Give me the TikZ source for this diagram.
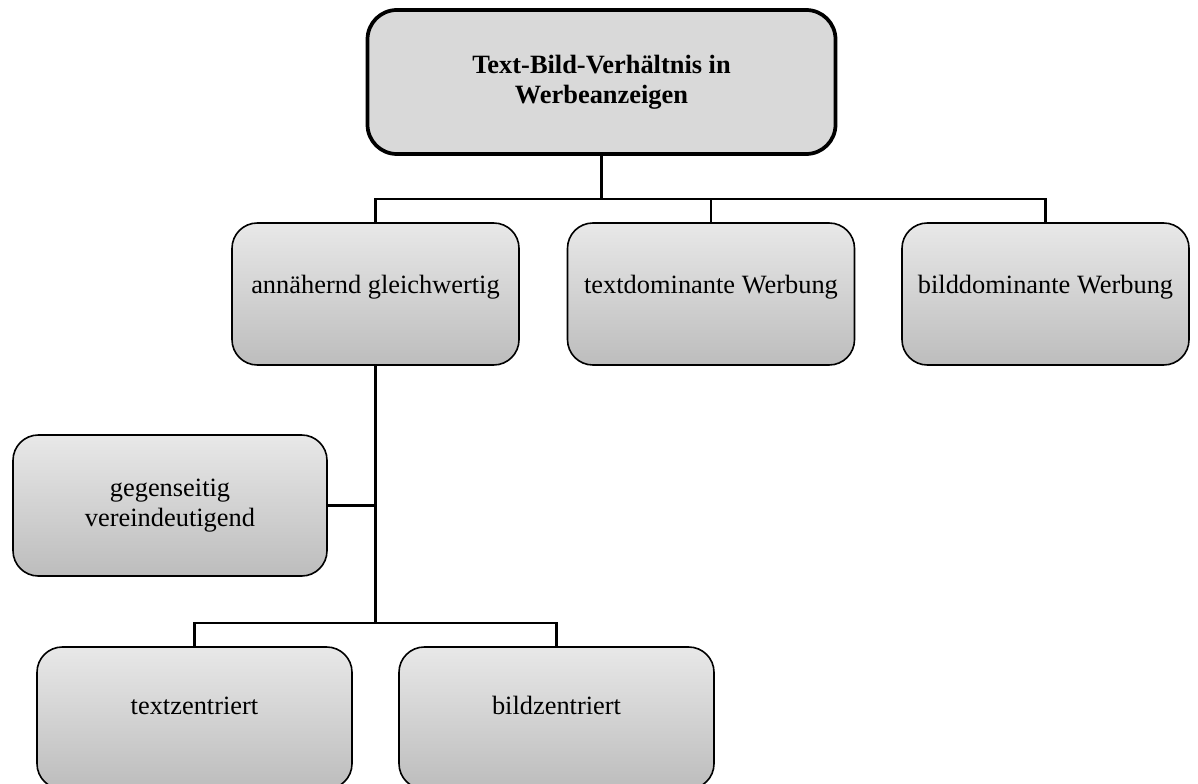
\documentclass[tikz,border=0pt]{standalone}
\usepackage{fontspec}
\setmainfont{Liberation Serif}
\usetikzlibrary{positioning,calc}

\begin{document}
\begin{tikzpicture}[
  x=0.75pt, y=-0.75pt,
  font=\fontsize{19.8}{22.5}\selectfont,
  rootbox/.style={draw, line width=2.8pt, rounded corners=22pt, fill=black!15, align=center, minimum width=351pt, minimum height=108pt},
  leafbox/.style={draw, line width=1.2pt, rounded corners=19pt, top color=black!9, bottom color=black!26, align=center, minimum width=215.25pt, minimum height=106.5pt},
  lifted/.style={text depth=15pt},
  conn/.style={line width=2pt}
]
\useasboundingbox (0,0) rectangle (1198,784);

\node[rootbox] (root) at (601.5,82) {\textbf{Text-Bild-Verhältnis in}\\\textbf{Werbeanzeigen}};

\node[leafbox, lifted] (gleich) at (375.5,294) {annähernd gleichwertig};
\node[leafbox, lifted] (textdom) at (711,294) {textdominante Werbung};
\node[leafbox, lifted] (bilddom) at (1045.5,294) {bilddominante Werbung};

\node[leafbox, minimum width=235.5pt, minimum height=105.75pt] (gegen) at (170,505.5) {gegenseitig\\vereindeutigend};

\node[leafbox, lifted, text depth=19pt, minimum width=236.25pt] (textz) at (194.5,718) {textzentriert};
\node[leafbox, lifted, text depth=19pt, minimum width=236.25pt] (bildz) at (556.5,718) {bildzentriert};

% verbindungen
\coordinate (bus) at (601.5,199);
\coordinate (bus2) at (375.5,623);
\draw[conn] (root.south) -- (bus);
\draw[conn] (gleich.north) |- (bus) -| (bilddom.north);
\draw[conn] (textdom.north) -- (textdom.north |- bus);
\draw[conn] (gleich.south) -- (bus2);
\draw[conn] (gegen.east) -- (gegen.east -| bus2);
\draw[conn] (textz.north) |- (bus2) -| (bildz.north);
\end{tikzpicture}
\end{document}
